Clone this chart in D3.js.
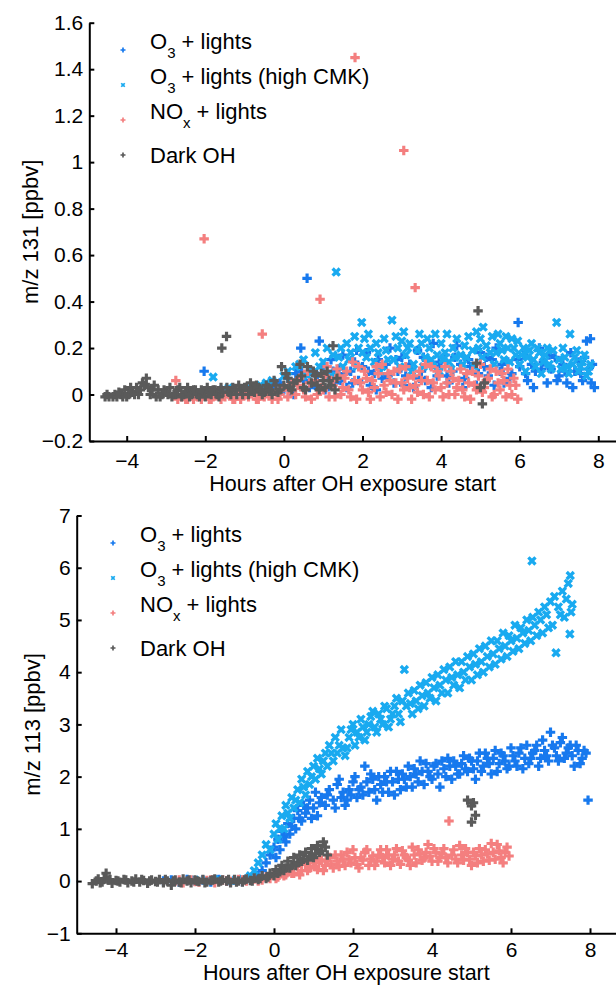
<!DOCTYPE html>
<html>
<head>
<meta charset="utf-8">
<script src="https://cdn.jsdelivr.net/npm/d3@7"></script>
<style>
body { margin: 0; background: #fff; }
svg { display: block; font-family: "Liberation Sans", Arial, sans-serif; }
</style>
</head>
<body>
<div id="chart-area"></div>
<script>
const chartSize = { width: 616, height: 985 };

// legend labels: [main, subscript, rest]
const seriesLabels = [
    ["O", "3", " + lights"],
    ["O", "3", " + lights (high CMK)"],
    ["NO", "x", " + lights"],
    ["Dark OH", "", ""]
];
const seriesColors = ["#1779ee", "#19aaf0", "#f47f7f", "#5a5a5a"];
const seriesMarkers = ["plus", "cross", "plus", "plus"];

const xTicks = [-4, -2, 0, 2, 4, 6, 8];
const topYTicks = [-0.2, 0, 0.2, 0.4, 0.6, 0.8, 1, 1.2, 1.4, 1.6];
const bottomYTicks = [-1, 0, 1, 2, 3, 4, 5, 6, 7];
const xTitle = "Hours after OH exposure start";

// ---- m/z 131 (top panel), [hours, ppbv]
const top131O3 = [[-2.3,0.0],[-2.03,0.10],[-1.8,0.0],[-1.6,0.02],[-1.5,0.01],[-1.2,0.0],[-1.0,0.0],[-0.9,0.02],[-0.6,0.01],[-0.45,0.01],[-0.3,0.03],[-0.1,0.05],[0.0,0.02],[0.1,0.07],[0.2,0.04],[0.25,0.0],[0.3,0.09],[0.43,0.2],[0.45,0.1],[0.5,0.06],[0.59,0.5],[0.65,0.03],[0.7,0.1],[0.9,0.23],[0.8,0.04],[0.85,0.08],[1.0,0.12],[1.05,0.02],[1.1,0.08],[1.2,0.15],[1.25,0.1],[1.3,0.05],[1.4,0.11],[1.45,0.06],[1.5,0.17],[1.55,0.09],[1.6,0.03],[1.7,0.1],[1.75,0.05],[1.8,0.14],[1.85,0.19],[1.9,0.06],[2.0,0.12],[2.1,0.18],[2.15,0.1],[2.2,0.04],[2.3,0.09],[2.35,0.02],[2.4,0.15],[2.45,0.12],[2.5,0.07],[2.6,0.13],[2.65,0.08],[2.7,0.2],[2.8,0.05],[2.85,0.15],[2.9,0.1],[3.0,0.16],[3.05,0.04],[3.1,0.08],[3.2,0.13],[3.25,0.11],[3.3,0.03],[3.4,0.19],[3.45,0.07],[3.5,0.1],[3.55,0.16],[3.6,0.06],[3.7,0.14],[3.75,0.03],[3.8,0.22],[3.9,0.08],[3.95,0.14],[4.0,0.12],[4.1,0.17],[4.15,0.08],[4.2,0.05],[4.3,0.1],[4.35,0.16],[4.4,0.21],[4.5,0.13],[4.55,0.03],[4.6,0.07],[4.7,0.15],[4.75,0.12],[4.8,0.1],[4.9,0.04],[4.95,0.09],[5.0,0.18],[5.1,0.12],[5.15,0.16],[5.2,0.08],[5.3,0.15],[5.35,0.04],[5.4,0.2],[5.5,0.1],[5.55,0.13],[5.6,0.05],[5.7,0.14],[5.75,0.07],[5.8,0.09],[5.95,0.15],[5.96,0.31],[6.0,0.12],[6.1,0.17],[6.15,0.09],[6.2,0.06],[6.3,0.13],[6.35,0.03],[6.4,0.1],[6.5,0.2],[6.55,0.11],[6.6,0.14],[6.7,0.05],[6.75,0.17],[6.8,0.11],[6.9,0.16],[6.95,0.06],[7.0,0.08],[7.1,0.13],[7.15,0.1],[7.2,0.05],[7.3,0.18],[7.35,0.03],[7.4,0.1],[7.5,0.14],[7.55,0.09],[7.6,0.06],[7.65,0.16],[7.7,0.23],[7.75,0.11],[7.8,0.24],[7.82,0.05],[7.85,0.13],[7.9,0.03]];
const top131O3High = [[-1.8,0.075],[-1.4,0.03],[-1.0,0.02],[-0.8,0.03],[-0.6,0.04],[-0.45,0.05],[-0.3,0.06],[0.0,0.08],[0.1,0.1],[0.2,0.05],[0.3,0.12],[0.4,0.13],[0.5,0.15],[0.6,0.08],[0.7,0.1],[0.8,0.18],[0.9,0.12],[1.0,0.14],[1.1,0.2],[1.2,0.08],[1.25,0.17],[1.33,0.527],[1.4,0.16],[1.45,0.2],[1.5,0.12],[1.6,0.22],[1.65,0.15],[1.7,0.18],[1.8,0.25],[1.85,0.12],[1.9,0.2],[1.98,0.31],[2.0,0.18],[2.05,0.24],[2.1,0.16],[2.15,0.26],[2.2,0.2],[2.3,0.14],[2.35,0.22],[2.4,0.18],[2.45,0.1],[2.5,0.12],[2.55,0.24],[2.6,0.19],[2.65,0.15],[2.75,0.32],[2.8,0.15],[2.85,0.25],[2.9,0.2],[2.95,0.12],[3.0,0.23],[3.05,0.27],[3.1,0.17],[3.15,0.2],[3.2,0.22],[3.25,0.1],[3.3,0.13],[3.4,0.19],[3.45,0.26],[3.5,0.22],[3.55,0.12],[3.6,0.16],[3.65,0.24],[3.7,0.2],[3.75,0.15],[3.8,0.12],[3.85,0.26],[3.9,0.17],[3.95,0.1],[4.0,0.22],[4.05,0.15],[4.1,0.18],[4.15,0.26],[4.2,0.14],[4.25,0.11],[4.3,0.2],[4.35,0.16],[4.4,0.24],[4.5,0.17],[4.55,0.13],[4.6,0.21],[4.65,0.16],[4.7,0.25],[4.8,0.19],[4.85,0.12],[4.9,0.27],[4.95,0.2],[5.0,0.24],[5.05,0.16],[5.07,0.29],[5.15,0.21],[5.25,0.18],[5.3,0.25],[5.35,0.13],[5.4,0.18],[5.45,0.26],[5.5,0.22],[5.55,0.19],[5.6,0.15],[5.65,0.25],[5.7,0.2],[5.75,0.14],[5.8,0.24],[5.85,0.2],[5.9,0.17],[5.95,0.23],[6.0,0.13],[6.05,0.17],[6.1,0.2],[6.15,0.1],[6.2,0.16],[6.25,0.19],[6.3,0.22],[6.35,0.15],[6.4,0.12],[6.45,0.2],[6.5,0.18],[6.55,0.09],[6.6,0.14],[6.65,0.17],[6.7,0.2],[6.75,0.13],[6.8,0.11],[6.85,0.19],[6.94,0.31],[7.0,0.15],[7.05,0.11],[7.1,0.2],[7.15,0.16],[7.2,0.12],[7.25,0.09],[7.28,0.26],[7.35,0.13],[7.4,0.16],[7.45,0.19],[7.5,0.1],[7.55,0.12],[7.6,0.14],[7.65,0.17],[7.7,0.08],[7.75,0.1],[7.8,0.13]];
const top131NOx = [[-2.75,0.06],[-2.7,-0.02],[-2.6,-0.01],[-2.5,-0.02],[-2.45,-0.02],[-2.4,0.0],[-2.3,-0.02],[-2.2,-0.01],[-2.15,0.0],[-2.03,0.67],[-2.1,-0.02],[-2.0,0.0],[-1.9,-0.02],[-1.85,-0.02],[-1.8,-0.01],[-1.7,0.0],[-1.6,-0.02],[-1.55,0.0],[-1.5,-0.01],[-1.4,0.0],[-1.3,-0.02],[-1.25,-0.02],[-1.2,0.01],[-1.1,-0.02],[-1.0,0.0],[-0.95,0.0],[-0.9,-0.01],[-0.8,0.02],[-0.55,0.26],[-0.7,-0.02],[-0.65,-0.02],[-0.6,0.0],[-0.5,-0.01],[-0.4,0.02],[-0.35,0.0],[-0.3,-0.02],[-0.2,0.01],[-0.15,-0.02],[-0.1,0.0],[0.0,0.03],[0.1,-0.01],[0.15,0.02],[0.2,0.05],[0.3,0.0],[0.35,0.04],[0.4,0.07],[0.5,0.02],[0.55,-0.01],[0.6,0.1],[0.65,0.05],[0.7,-0.02],[0.8,0.06],[0.85,0.0],[0.92,0.41],[0.95,0.03],[1.0,0.02],[1.05,0.08],[1.1,0.12],[1.15,-0.01],[1.2,0.06],[1.25,0.04],[1.3,-0.01],[1.35,0.11],[1.4,0.08],[1.45,0.0],[1.5,0.03],[1.55,0.07],[1.6,0.1],[1.65,0.02],[1.7,-0.01],[1.75,0.14],[1.8,0.06],[1.81,1.45],[1.85,-0.02],[1.9,0.12],[1.95,0.05],[2.0,0.02],[2.05,0.1],[2.1,0.07],[2.15,0.01],[2.2,-0.02],[2.25,0.06],[2.3,0.03],[2.35,0.12],[2.4,0.09],[2.45,-0.01],[2.5,0.13],[2.55,0.04],[2.6,0.01],[2.65,0.09],[2.7,0.06],[2.75,0.0],[2.8,0.1],[2.85,0.05],[2.9,-0.02],[2.95,0.11],[3.0,0.05],[3.05,1.05],[3.05,0.02],[3.1,0.12],[3.15,0.07],[3.2,0.03],[3.25,-0.02],[3.3,0.08],[3.34,0.46],[3.35,0.04],[3.4,0.01],[3.45,0.1],[3.5,0.06],[3.55,0.0],[3.6,0.13],[3.65,0.06],[3.7,-0.01],[3.75,0.12],[3.8,0.05],[3.85,0.02],[3.9,0.1],[3.95,0.08],[4.0,0.03],[4.05,-0.01],[4.1,0.12],[4.15,0.05],[4.2,0.0],[4.25,0.1],[4.3,0.07],[4.35,0.0],[4.4,0.03],[4.45,0.06],[4.5,0.11],[4.55,0.02],[4.6,-0.01],[4.65,0.09],[4.7,0.05],[4.75,-0.02],[4.8,0.1],[4.85,0.04],[4.9,0.02],[4.95,0.08],[5.0,0.13],[5.05,0.01],[5.1,0.03],[5.15,0.06],[5.2,0.07],[5.25,0.11],[5.3,-0.01],[5.35,0.0],[5.4,0.1],[5.45,0.05],[5.5,0.02],[5.55,0.09],[5.6,0.06],[5.65,-0.01],[5.7,0.11],[5.75,0.04],[5.8,0.0],[5.85,0.07],[5.9,0.04],[5.95,-0.02]];
const top131Dark = [[-4.55,-0.01],[-4.5,0.0],[-4.45,-0.01],[-4.35,-0.01],[-4.3,0.0],[-4.25,-0.01],[-4.2,0.01],[-4.15,0.0],[-4.1,-0.01],[-4.05,0.02],[-4.0,-0.01],[-3.95,0.0],[-3.9,0.03],[-3.85,0.01],[-3.8,0.0],[-3.75,0.03],[-3.7,0.0],[-3.65,0.02],[-3.6,0.05],[-3.55,0.04],[-3.5,0.07],[-3.45,0.03],[-3.4,0.0],[-3.35,0.02],[-3.3,0.04],[-3.25,-0.01],[-3.2,0.02],[-3.15,-0.01],[-3.1,0.0],[-3.05,0.02],[-3.0,0.01],[-2.95,0.0],[-2.9,0.03],[-2.85,-0.01],[-2.8,0.0],[-2.75,0.0],[-2.7,0.02],[-2.65,0.03],[-2.6,-0.01],[-2.55,0.0],[-2.5,0.01],[-2.45,0.03],[-2.4,-0.01],[-2.35,0.0],[-2.3,0.02],[-2.25,0.02],[-2.2,0.0],[-2.15,-0.01],[-2.1,0.02],[-2.05,0.01],[-2.0,-0.01],[-1.95,0.03],[-1.9,0.01],[-1.85,0.0],[-1.8,0.02],[-1.75,0.02],[-1.7,0.0],[-1.65,-0.01],[-1.6,0.03],[-1.55,0.01],[-1.58,0.2],[-1.46,0.25],[-1.45,0.03],[-1.4,0.01],[-1.35,0.0],[-1.3,0.03],[-1.25,0.02],[-1.2,0.0],[-1.15,0.04],[-1.1,0.02],[-1.05,0.0],[-1.0,0.03],[-0.95,0.03],[-0.9,0.0],[-0.85,0.05],[-0.8,0.02],[-0.75,0.01],[-0.7,0.04],[-0.65,0.03],[-0.6,0.02],[-0.55,0.0],[-0.5,0.01],[-0.45,0.04],[-0.4,0.03],[-0.35,0.02],[-0.3,0.0],[-0.25,0.06],[-0.2,0.04],[-0.15,0.01],[-0.1,0.02],[-0.06,0.12],[0.0,0.04],[0.05,0.09],[0.1,0.07],[0.15,0.03],[0.2,0.02],[0.25,0.05],[0.33,0.06],[0.41,0.13],[0.45,0.08],[0.5,0.03],[0.55,0.02],[0.6,0.12],[0.7,0.05],[0.75,0.1],[0.8,0.08],[0.85,0.04],[0.9,0.02],[0.95,0.09],[1.0,0.06],[1.05,0.03],[1.1,0.1],[1.15,0.06],[1.2,0.04],[1.25,0.21],[1.3,0.02],[1.35,0.07],[4.9,0.135],[4.94,0.36],[5.0,0.03],[5.05,-0.04],[5.1,0.05]];

// ---- m/z 113 (bottom panel), [hours, ppbv]
const bottom113O3 = [[-2.8,0.0],[-2.6,0.02],[-2.4,-0.02],[-2.2,0.03],[-2.0,0.0],[-1.8,0.02],[-1.6,-0.02],[-1.4,0.03],[-1.2,0.0],[-1.0,0.02],[-0.8,-0.01],[-0.6,0.04],[-0.4,0.1],[-0.3,0.2],[-0.2,0.35],[-0.1,0.5],[0.0,0.65],[0.05,0.45],[0.1,0.8],[0.15,0.6],[0.2,0.95],[0.25,0.85],[0.3,0.75],[0.35,1.1],[0.4,0.9],[0.45,1.05],[0.5,1.2],[0.55,1.0],[0.6,1.35],[0.65,1.2],[0.7,1.15],[0.75,1.45],[0.8,1.3],[0.85,1.4],[0.9,1.55],[0.95,1.2],[1.0,1.4],[1.05,1.7],[1.1,1.25],[1.15,1.5],[1.2,1.6],[1.3,1.45],[1.35,1.65],[1.4,1.75],[1.5,1.55],[1.55,1.4],[1.6,1.85],[1.65,1.95],[1.7,1.6],[1.75,1.7],[1.8,1.45],[1.85,1.55],[1.9,1.75],[1.95,1.65],[2.0,1.9],[2.05,2.0],[2.1,1.6],[2.15,1.75],[2.2,1.8],[2.25,1.65],[2.3,2.2],[2.35,1.9],[2.4,1.7],[2.45,2.05],[2.5,1.95],[2.55,1.75],[2.6,1.55],[2.65,2.0],[2.7,1.85],[2.75,1.7],[2.8,2.0],[2.85,1.9],[2.9,1.7],[2.95,2.1],[3.0,1.9],[3.05,1.65],[3.1,2.1],[3.15,1.95],[3.2,1.75],[3.25,2.05],[3.3,1.95],[3.35,1.8],[3.4,2.2],[3.45,2.0],[3.5,1.8],[3.55,2.15],[3.6,2.05],[3.65,1.9],[3.7,2.3],[3.75,2.1],[3.8,1.85],[3.85,2.25],[3.9,2.1],[3.95,2.0],[4.0,1.95],[4.05,2.2],[4.1,2.25],[4.15,2.05],[4.2,1.8],[4.25,2.3],[4.3,2.15],[4.35,2.0],[4.4,2.35],[4.45,2.2],[4.5,1.95],[4.55,2.3],[4.6,2.2],[4.65,2.05],[4.7,2.05],[4.75,2.25],[4.8,2.4],[4.85,2.15],[4.9,2.1],[4.95,2.35],[5.0,2.3],[5.05,2.15],[5.1,1.95],[5.15,2.3],[5.2,2.45],[5.25,2.1],[5.3,2.2],[5.35,2.45],[5.4,2.35],[5.45,2.25],[5.5,2.05],[5.55,2.35],[5.6,2.5],[5.65,2.1],[5.7,2.25],[5.75,2.45],[5.8,2.4],[5.85,2.3],[5.9,2.15],[5.95,2.2],[6.0,2.55],[6.05,2.4],[6.1,2.3],[6.15,2.2],[6.2,2.45],[6.25,2.55],[6.3,2.15],[6.35,2.35],[6.4,2.6],[6.45,2.25],[6.5,2.35],[6.55,2.45],[6.6,2.5],[6.65,2.6],[6.7,2.2],[6.75,2.35],[6.8,2.7],[6.85,2.5],[6.9,2.4],[6.95,2.3],[7.0,2.85],[7.05,2.6],[7.1,2.55],[7.15,2.4],[7.2,2.3],[7.25,2.65],[7.3,2.75],[7.35,2.35],[7.4,2.45],[7.45,2.55],[7.5,2.6],[7.55,2.4],[7.6,2.2],[7.65,2.6],[7.7,2.5],[7.75,2.25],[7.8,2.35],[7.85,2.5],[7.9,2.45],[7.95,1.55]];
const bottom113O3High = [[-2.0,0.02],[-1.7,0.0],[-1.4,0.03],[-1.1,0.01],[-0.8,0.04],[-0.6,0.1],[-0.5,0.2],[-0.4,0.35],[-0.3,0.5],[-0.2,0.7],[-0.1,0.6],[0.0,0.9],[0.05,1.1],[0.1,0.8],[0.15,1.0],[0.2,1.25],[0.25,1.0],[0.3,1.45],[0.35,1.3],[0.4,1.2],[0.45,1.6],[0.5,1.4],[0.55,1.55],[0.6,1.75],[0.65,1.5],[0.7,1.95],[0.75,1.8],[0.8,1.65],[0.85,2.1],[0.9,1.85],[0.95,2.0],[1.0,2.2],[1.05,1.95],[1.1,2.35],[1.15,2.15],[1.2,2.05],[1.25,2.3],[1.3,2.45],[1.35,2.2],[1.4,2.6],[1.45,2.45],[1.5,2.3],[1.55,2.75],[1.6,2.45],[1.65,2.6],[1.7,2.9],[1.75,2.55],[1.8,2.4],[1.85,2.55],[1.9,2.75],[1.95,2.9],[2.0,3.0],[2.05,2.6],[2.1,2.85],[2.15,2.75],[2.2,3.1],[2.25,2.95],[2.3,2.7],[2.35,2.85],[2.4,3.0],[2.45,3.15],[2.5,3.25],[2.55,2.95],[2.6,2.85],[2.65,3.2],[2.7,3.1],[2.75,3.0],[2.8,3.35],[2.85,3.3],[2.9,2.95],[2.95,3.1],[3.0,3.2],[3.05,3.35],[3.1,3.5],[3.15,3.2],[3.2,3.05],[3.25,3.45],[3.3,4.05],[3.35,3.35],[3.4,3.6],[3.45,3.4],[3.5,3.2],[3.55,3.65],[3.6,3.45],[3.65,3.3],[3.7,3.75],[3.75,3.55],[3.8,3.35],[3.85,3.8],[3.9,3.6],[3.95,3.5],[4.0,3.9],[4.05,3.7],[4.1,3.45],[4.15,3.95],[4.2,3.75],[4.25,3.6],[4.3,4.05],[4.35,3.85],[4.4,3.6],[4.45,4.1],[4.5,3.9],[4.55,3.75],[4.6,4.2],[4.65,3.95],[4.7,3.7],[4.75,4.2],[4.8,4.0],[4.85,3.85],[4.9,4.3],[4.95,4.1],[5.0,3.85],[5.05,4.35],[5.1,4.15],[5.15,3.95],[5.2,4.45],[5.25,4.2],[5.3,4.0],[5.35,4.5],[5.4,4.3],[5.45,4.1],[5.5,4.6],[5.55,4.35],[5.6,4.15],[5.65,4.6],[5.7,4.45],[5.75,4.25],[5.8,4.75],[5.85,4.5],[5.9,4.3],[5.95,4.7],[6.0,4.6],[6.05,4.4],[6.1,4.9],[6.15,4.65],[6.2,4.45],[6.25,4.85],[6.3,4.75],[6.35,4.55],[6.4,5.0],[6.45,4.8],[6.5,4.6],[6.53,6.13],[6.55,5.05],[6.6,4.9],[6.65,4.7],[6.7,5.15],[6.75,5.0],[6.8,4.75],[6.85,5.25],[6.9,5.1],[6.95,4.85],[7.0,5.35],[7.05,4.9],[7.1,5.45],[7.14,4.37],[7.2,5.25],[7.25,5.1],[7.3,5.55],[7.35,5.05],[7.4,5.4],[7.45,5.7],[7.49,4.73],[7.5,5.85],[7.52,5.15],[7.55,5.3]];
const bottom113NOx = [[-2.5,0.0],[-2.4,0.02],[-2.3,-0.03],[-2.1,0.02],[-2.0,-0.01],[-1.9,-0.02],[-1.7,0.01],[-1.6,0.02],[-1.5,-0.03],[-1.3,0.02],[-1.2,0.0],[-1.1,-0.01],[-0.9,0.03],[-0.8,0.02],[-0.7,0.0],[-0.5,0.04],[-0.4,0.0],[-0.3,0.02],[-0.2,0.08],[-0.1,0.05],[0.0,0.12],[0.05,0.05],[0.1,0.08],[0.2,0.18],[0.25,0.1],[0.3,0.12],[0.4,0.22],[0.45,0.15],[0.5,0.15],[0.6,0.28],[0.65,0.12],[0.7,0.2],[0.8,0.32],[0.85,0.2],[0.9,0.25],[1.0,0.35],[1.05,0.28],[1.1,0.22],[1.15,0.4],[1.2,0.4],[1.25,0.2],[1.3,0.3],[1.35,0.38],[1.4,0.45],[1.45,0.32],[1.5,0.25],[1.55,0.5],[1.6,0.38],[1.65,0.28],[1.7,0.5],[1.75,0.42],[1.8,0.3],[1.85,0.55],[1.9,0.42],[1.95,0.35],[2.0,0.6],[2.05,0.45],[2.1,0.32],[2.15,0.25],[2.2,0.45],[2.25,0.4],[2.3,0.55],[2.35,0.6],[2.4,0.3],[2.45,0.42],[2.5,0.48],[2.55,0.3],[2.6,0.38],[2.65,0.5],[2.7,0.6],[2.75,0.45],[2.8,0.35],[2.85,0.6],[2.9,0.5],[2.95,0.3],[3.0,0.42],[3.05,0.5],[3.1,0.62],[3.15,0.38],[3.2,0.32],[3.25,0.58],[3.3,0.5],[3.35,0.45],[3.4,0.4],[3.45,0.3],[3.5,0.65],[3.55,0.5],[3.6,0.35],[3.65,0.6],[3.7,0.52],[3.75,0.4],[3.8,0.44],[3.85,0.55],[3.9,0.7],[3.95,0.48],[4.0,0.38],[4.05,0.62],[4.1,0.55],[4.15,0.38],[4.2,0.45],[4.25,0.52],[4.3,0.62],[4.35,0.45],[4.43,1.15],[4.4,0.35],[4.5,0.5],[4.55,0.6],[4.6,0.42],[4.65,0.35],[4.7,0.68],[4.75,0.5],[4.8,0.4],[4.85,0.62],[4.9,0.55],[4.95,0.42],[5.0,0.3],[5.05,0.55],[5.1,0.48],[5.15,0.35],[5.2,0.62],[5.25,0.5],[5.3,0.38],[5.35,0.6],[5.4,0.52],[5.45,0.4],[5.5,0.72],[5.55,0.55],[5.6,0.42],[5.65,0.7],[5.7,0.58],[5.75,0.45],[5.8,0.35],[5.85,0.55],[5.9,0.65],[5.95,0.48]];
const bottom113Dark = [[-4.6,-0.05],[-4.5,0.0],[-4.45,0.04],[-4.4,-0.03],[-4.35,-0.02],[-4.3,0.05],[-4.25,0.15],[-4.2,0.02],[-4.15,0.03],[-4.1,-0.04],[-4.0,0.01],[-3.95,0.0],[-3.9,-0.02],[-3.8,0.03],[-3.75,0.02],[-3.7,-0.03],[-3.6,0.0],[-3.55,-0.02],[-3.5,0.04],[-3.4,-0.02],[-3.35,0.03],[-3.3,0.01],[-3.2,-0.04],[-3.15,0.0],[-3.1,0.02],[-3.0,-0.01],[-2.95,-0.02],[-2.9,0.03],[-2.8,-0.03],[-2.75,0.03],[-2.7,0.0],[-2.6,-0.08],[-2.55,0.0],[-2.5,0.02],[-2.4,-0.02],[-2.35,-0.03],[-2.3,0.04],[-2.2,0.0],[-2.15,0.02],[-2.1,-0.03],[-2.0,0.02],[-1.95,0.0],[-1.9,-0.01],[-1.8,0.03],[-1.75,-0.03],[-1.7,-0.02],[-1.6,0.01],[-1.55,0.02],[-1.5,0.04],[-1.4,-0.02],[-1.35,0.0],[-1.3,0.02],[-1.2,0.0],[-1.15,0.03],[-1.1,-0.03],[-1.0,0.03],[-0.95,-0.02],[-0.9,0.0],[-0.8,-0.02],[-0.75,0.02],[-0.7,0.04],[-0.6,0.01],[-0.55,0.0],[-0.5,0.06],[-0.4,0.03],[-0.35,0.05],[-0.3,0.1],[-0.2,0.05],[-0.15,0.08],[-0.1,0.15],[0.0,0.1],[0.05,0.22],[0.1,0.15],[0.15,0.18],[0.2,0.3],[0.25,0.2],[0.3,0.25],[0.35,0.38],[0.4,0.25],[0.45,0.3],[0.5,0.45],[0.55,0.3],[0.6,0.35],[0.65,0.5],[0.7,0.38],[0.75,0.42],[0.8,0.55],[0.85,0.4],[0.9,0.48],[0.95,0.62],[1.0,0.45],[1.05,0.52],[1.1,0.68],[1.15,0.55],[1.2,0.58],[1.25,0.75],[1.3,0.65],[1.35,0.5],[4.9,1.55],[5.0,1.44],[5.05,1.5],[5.1,1.26],[5.0,1.13]];

const panels = [
    {
        series: [top131O3, top131O3High, top131NOx, top131Dark],
        yTicks: topYTicks, yDomain: [-0.2, 1.6], yLabel: "m/z 131 [ppbv]",
        left: 89.3, top: 22.7, bottom: 441, xAt: [126.7, 598.3],
        tickPad: 12, titleY: 491,
        yLabelX: 38, legend: { x: 123, y: 50 }
    },
    {
        series: [bottom113O3, bottom113O3High, bottom113NOx, bottom113Dark],
        yTicks: bottomYTicks, yDomain: [-1, 7], yLabel: "m/z 113 [ppbv]",
        left: 76.7, top: 515.5, bottom: 933.3, xAt: [116, 590],
        tickPad: 9, titleY: 980.3,
        yLabelX: 40, legend: { x: 113, y: 543 }
    }
];

const markerPath = size => d3.symbol().type(d3.symbolCross).size(size)();

const drawMarkers = function(g, points, kind, color, size) {
    const rot = kind === "cross" ? 45 : 0;
    g.selectAll(null)
        .data(points)
        .enter()
        .append("path")
        .attr("d", markerPath(size))
        .attr("transform", d => `translate(${d[0]},${d[1]}) rotate(${rot})`)
        .attr("fill", color);
};

const drawPanel = function(svg, p) {
    const right = chartSize.width;
    const x = d3.scaleLinear().domain([-4, 8]).range(p.xAt);
    x.domain([x.invert(p.left), x.invert(right)]).range([p.left, right]);
    const y = d3.scaleLinear().domain(p.yDomain).range([p.bottom, p.top]);

    const g = svg.append("g");
    p.series.forEach((pts, i) => {
        const sg = g.append("g");
        const size = seriesMarkers[i] === "cross" ? 56 : 50;
        drawMarkers(sg, pts.map(d => [x(d[0]), y(d[1])]), seriesMarkers[i], seriesColors[i], size);
    });

    const xAxis = d3.axisBottom(x)
        .tickValues(xTicks)
        .tickSizeInner(-5)
        .tickSizeOuter(0)
        .tickPadding(p.tickPad)
        .tickFormat(d3.format("~g"));
    const xg = svg.append("g")
        .attr("transform", `translate(0,${p.bottom})`)
        .call(xAxis);

    const yAxis = d3.axisLeft(y)
        .tickValues(p.yTicks)
        .tickSizeInner(-5)
        .tickSizeOuter(0)
        .tickPadding(6)
        .tickFormat(d3.format("~g"));
    const yg = svg.append("g")
        .attr("transform", `translate(${p.left},0)`)
        .call(yAxis);

    [xg, yg].forEach(a => {
        a.selectAll("path, line").attr("stroke", "#000").attr("stroke-width", 2);
        a.selectAll("text").attr("fill", "#000").attr("font-size", 21)
            .attr("font-family", "Liberation Sans, Arial, sans-serif");
    });

    svg.append("text")
        .attr("x", (p.left + right) / 2)
        .attr("y", p.titleY)
        .attr("text-anchor", "middle")
        .attr("font-size", 21.5)
        .text(xTitle);

    svg.append("text")
        .attr("transform", `translate(${p.yLabelX},${(p.top + p.bottom) / 2}) rotate(-90)`)
        .attr("text-anchor", "middle")
        .attr("font-size", 22)
        .text(p.yLabel);

    // legend
    seriesLabels.forEach((lab, i) => {
        const cy = p.legend.y + i * 35;
        drawMarkers(svg, [[p.legend.x, cy]], seriesMarkers[i], seriesColors[i], 14);
        const t = svg.append("text")
            .attr("x", p.legend.x + 27)
            .attr("y", lab[1] ? cy - 1 : cy + 7.5)
            .attr("font-size", 22);
        t.append("tspan").text(lab[0]);
        if (lab[1]) {
            t.append("tspan").attr("dy", 9).attr("font-size", 15).text(lab[1]);
            t.append("tspan").attr("dy", -9).text(lab[2]);
        }
    });
};

const main = () => {
    const svg = d3.select("#chart-area")
        .append("svg")
        .attr("width", chartSize.width)
        .attr("height", chartSize.height);
    panels.forEach(p => drawPanel(svg, p));
};
main();
</script>
</body>
</html>
